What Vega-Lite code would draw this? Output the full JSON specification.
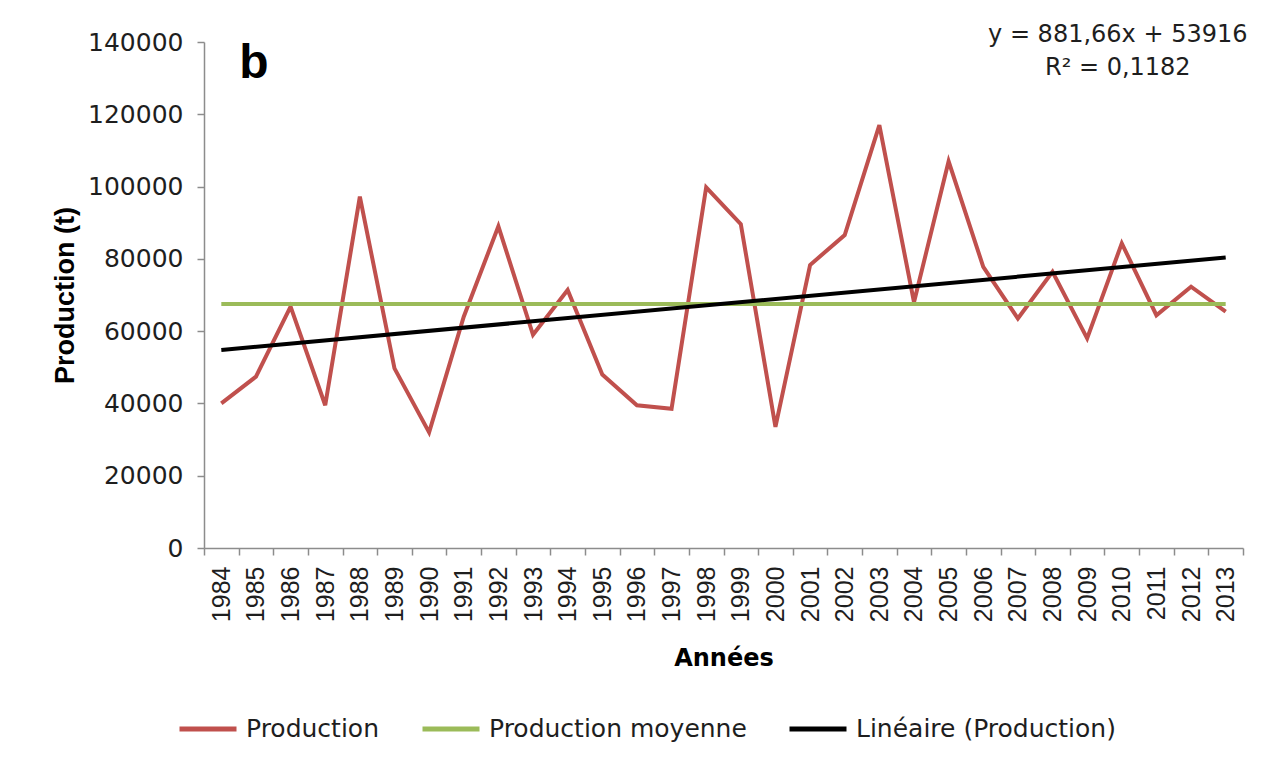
{
  "$schema": "https://vega.github.io/schema/vega-lite/v6.json",
  "width": 1039,
  "height": 506,
  "autosize": {"type": "none"},
  "padding": {"left": 204, "top": 42, "right": 21, "bottom": 215},
  "background": "white",
  "config": {
    "view": {"stroke": null},
    "font": "DejaVu Sans",
    "axis": {
      "grid": false,
      "domainColor": "#8c8c8c",
      "tickColor": "#8c8c8c",
      "domainWidth": 1.5,
      "tickWidth": 1.5,
      "labelColor": "#1e1e1e",
      "titleColor": "#000000"
    }
  },
  "datasets": {
    "series": [
      {"annee": "1984", "valeur": 40000, "serie": "Production"},
      {"annee": "1985", "valeur": 47400, "serie": "Production"},
      {"annee": "1986", "valeur": 66800, "serie": "Production"},
      {"annee": "1987", "valeur": 39500, "serie": "Production"},
      {"annee": "1988", "valeur": 97200, "serie": "Production"},
      {"annee": "1989", "valeur": 49700, "serie": "Production"},
      {"annee": "1990", "valeur": 32000, "serie": "Production"},
      {"annee": "1991", "valeur": 64000, "serie": "Production"},
      {"annee": "1992", "valeur": 89000, "serie": "Production"},
      {"annee": "1993", "valeur": 59000, "serie": "Production"},
      {"annee": "1994", "valeur": 71400, "serie": "Production"},
      {"annee": "1995", "valeur": 48000, "serie": "Production"},
      {"annee": "1996", "valeur": 39500, "serie": "Production"},
      {"annee": "1997", "valeur": 38500, "serie": "Production"},
      {"annee": "1998", "valeur": 99800, "serie": "Production"},
      {"annee": "1999", "valeur": 89600, "serie": "Production"},
      {"annee": "2000", "valeur": 33500, "serie": "Production"},
      {"annee": "2001", "valeur": 78300, "serie": "Production"},
      {"annee": "2002", "valeur": 86600, "serie": "Production"},
      {"annee": "2003", "valeur": 117000, "serie": "Production"},
      {"annee": "2004", "valeur": 68000, "serie": "Production"},
      {"annee": "2005", "valeur": 107000, "serie": "Production"},
      {"annee": "2006", "valeur": 77800, "serie": "Production"},
      {"annee": "2007", "valeur": 63500, "serie": "Production"},
      {"annee": "2008", "valeur": 76400, "serie": "Production"},
      {"annee": "2009", "valeur": 58000, "serie": "Production"},
      {"annee": "2010", "valeur": 84300, "serie": "Production"},
      {"annee": "2011", "valeur": 64400, "serie": "Production"},
      {"annee": "2012", "valeur": 72300, "serie": "Production"},
      {"annee": "2013", "valeur": 65400, "serie": "Production"},
      {"annee": "1984", "valeur": 67500, "serie": "Production moyenne"},
      {"annee": "2013", "valeur": 67500, "serie": "Production moyenne"},
      {"annee": "1984", "valeur": 54798, "serie": "Linéaire (Production)"},
      {"annee": "2013", "valeur": 80366, "serie": "Linéaire (Production)"}
    ]
  },
  "encoding": {
    "x": {
      "field": "annee",
      "type": "ordinal",
      "bandPosition": 0.5,
      "scale": {"type": "band", "paddingInner": 0, "paddingOuter": 0},
      "axis": {
        "title": "Années",
        "labelAngle": -90,
        "tickBand": "extent",
        "tickSize": 7,
        "labelPadding": 11,
        "labelFont": "Liberation Sans",
        "labelFontSize": 25,
        "titleFont": "DejaVu Sans",
        "titleFontWeight": "bold",
        "titleFontSize": 24,
        "titlePadding": 25
      }
    },
    "y": {
      "field": "valeur",
      "type": "quantitative",
      "scale": {"domain": [0, 140000], "nice": false},
      "axis": {
        "title": "Production (t)",
        "values": [0, 20000, 40000, 60000, 80000, 100000, 120000, 140000],
        "format": "d",
        "tickSize": 7,
        "labelPadding": 14,
        "labelFont": "DejaVu Sans",
        "labelFontSize": 25,
        "titleFont": "Liberation Sans",
        "titleFontSize": 27,
        "titleFontWeight": "bold",
        "titlePadding": 8
      }
    }
  },
  "layer": [
    {
      "data": {"name": "series"},
      "transform": [{"filter": "datum.serie == 'Production'"}],
      "mark": {"type": "line", "strokeWidth": 4},
      "encoding": {
        "color": {
          "field": "serie",
          "type": "nominal",
          "scale": {
            "domain": ["Production", "Production moyenne", "Linéaire (Production)"],
            "range": ["#C0504D", "#9BBB59", "#000000"]
          },
          "legend": {
            "title": null,
            "orient": "none",
            "direction": "horizontal",
            "legendX": -27,
            "legendY": 656,
            "symbolType": "stroke",
            "symbolSize": 3249,
            "symbolStrokeWidth": 5,
            "labelFont": "DejaVu Sans",
            "labelFontSize": 25,
            "labelColor": "#1e1e1e",
            "labelOffset": 7,
            "columnPadding": 32,
            "labelLimit": 0
          }
        }
      }
    },
    {
      "data": {"name": "series"},
      "transform": [{"filter": "datum.serie == 'Production moyenne'"}],
      "mark": {"type": "line", "strokeWidth": 4},
      "encoding": {"color": {"field": "serie", "type": "nominal"}}
    },
    {
      "data": {"name": "series"},
      "transform": [{"filter": "datum.serie == 'Linéaire (Production)'"}],
      "mark": {"type": "line", "strokeWidth": 4},
      "encoding": {"color": {"field": "serie", "type": "nominal"}}
    },
    {
      "data": {"values": [{"annee": "1985", "valeur": 130000, "texte": "b"}]},
      "mark": {"type": "text", "font": "Liberation Sans", "fontWeight": "bold", "fontSize": 48, "baseline": "alphabetic", "align": "center", "dx": -2, "color": "#000000"},
      "encoding": {"text": {"field": "texte"}}
    },
    {
      "data": {"values": [
        {"annee": "2010", "valeur": 140000, "texte": "y = 881,66x + 53916"},
        {"annee": "2010", "valeur": 131000, "texte": "R² = 0,1182"}
      ]},
      "mark": {"type": "text", "font": "DejaVu Sans", "fontSize": 24, "baseline": "alphabetic", "align": "center", "dx": -4, "color": "#1e1e1e"},
      "encoding": {"text": {"field": "texte"}}
    }
  ]
}
